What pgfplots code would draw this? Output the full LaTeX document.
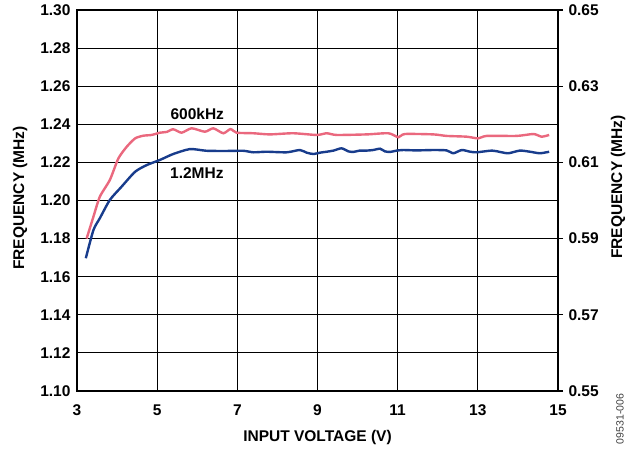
\documentclass[border=0pt]{standalone}
\usepackage{fontspec}
\setmainfont{Liberation Sans}
\usepackage{pgfplots}
\pgfplotsset{compat=1.18}
\definecolor{pinkline}{RGB}{234,104,126}
\definecolor{blueline}{RGB}{24,60,140}
\newcommand{\lbl}{\bfseries\fontsize{15.5}{18}\selectfont}

\begin{document}
\begin{tikzpicture}
\pgfplotsset{
  every axis/.append style={
    scale only axis, width=481pt, height=381pt,
    xmin=3, xmax=15, clip=false,
    /pgf/number format/assume math mode=true,
    ticklabel style={font=\lbl},
  },
}
% left axis: 1.2MHz
\begin{axis}[
  ymin=1.10, ymax=1.30,
  xtick={3,5,7,9,11,13,15},
  ytick={1.10,1.12,1.14,1.16,1.18,1.20,1.22,1.24,1.26,1.28,1.30},
  grid=major, grid style={black, line width=1.1pt},
  axis line style={line width=1.8pt},
  major tick length=0pt,
  yticklabel style={xshift=-3pt, /pgf/number format/fixed, /pgf/number format/fixed zerofill, /pgf/number format/precision=2},
  xticklabel style={yshift=-10pt},
]
\coordinate (SW) at (rel axis cs:0,0);
\addplot[blueline, line width=2.4pt, smooth, tension=0.4] coordinates {
  (3.22,1.1697) (3.41,1.1845) (3.57,1.1907) (3.82,1.2003) (4.11,1.2072)
  (4.45,1.2151) (4.74,1.2186) (5.07,1.2213) (5.40,1.2244) (5.82,1.2270)
  (6.23,1.2261) (6.73,1.2260) (7.15,1.2261) (7.40,1.2253) (7.73,1.2256)
  (8.23,1.2253) (8.56,1.2265) (8.73,1.2251) (8.90,1.2244) (9.06,1.2251)
  (9.23,1.2256) (9.40,1.2262) (9.60,1.2274) (9.77,1.2258) (9.89,1.2255)
  (10.06,1.2262) (10.23,1.2262) (10.39,1.2265) (10.56,1.2272) (10.68,1.2258)
  (10.81,1.2255) (10.98,1.2262) (11.14,1.2265) (11.47,1.2263) (11.89,1.2265)
  (12.22,1.2263) (12.39,1.2248) (12.60,1.2265) (12.81,1.2256) (12.97,1.2253)
  (13.35,1.2262) (13.55,1.2255) (13.76,1.2248) (14.05,1.2262) (14.30,1.2256)
  (14.55,1.2248) (14.78,1.2256)
};
\node[font=\lbl] at (axis cs:6.0,1.2454) {600kHz};
\node[font=\lbl] at (axis cs:5.99,1.2146) {1.2MHz};
\end{axis}

% right axis: 600kHz
\begin{axis}[
  ymin=0.55, ymax=0.65,
  axis x line=none, axis y line*=right,
  ytick={0.55,0.57,0.59,0.61,0.63,0.65},
  axis line style={line width=1.8pt},
  tick align=outside, major tick length=5pt,
  tick style={black, line width=1.1pt},
  yticklabel style={xshift=2pt, /pgf/number format/fixed, /pgf/number format/fixed zerofill, /pgf/number format/precision=2},
]
\addplot[pinkline, line width=2.4pt, smooth, tension=0.4] coordinates {
  (3.24,0.5900) (3.41,0.59575) (3.57,0.6010) (3.82,0.6054) (4.03,0.6110)
  (4.24,0.6141) (4.45,0.6163) (4.65,0.6170) (4.86,0.6172) (5.07,0.6178)
  (5.24,0.6180) (5.40,0.6187) (5.61,0.6178) (5.86,0.61895) (6.19,0.61805)
  (6.40,0.61895) (6.65,0.61765) (6.83,0.61875) (6.98,0.6178) (7.40,0.61765)
  (7.81,0.61735) (8.39,0.61765) (8.98,0.6172) (9.23,0.61765) (9.48,0.6172)
  (10.23,0.61735) (10.77,0.61765) (11.02,0.6166) (11.18,0.61745) (11.89,0.61735)
  (12.22,0.61695) (12.72,0.61675) (13.01,0.6163) (13.22,0.61695) (13.97,0.61695)
  (14.39,0.61745) (14.59,0.61675) (14.78,0.6172)
};
\end{axis}

\node[font=\lbl, rotate=90] at ([shift={(-57pt,193pt)}]SW) {FREQUENCY (MHz)};
\node[font=\lbl, rotate=90] at ([shift={(541pt,204pt)}]SW) {FREQUENCY (MHz)};
\node[font=\lbl] at ([shift={(240.5pt,-46pt)}]SW) {INPUT VOLTAGE (V)};
\node[font=\fontsize{10.5}{12}\selectfont, text=black!75, rotate=90] at ([shift={(543pt,-28pt)}]SW) {09531-006};
\path[use as bounding box] ([shift={(-77pt,-59pt)}]SW) rectangle ([shift={(552pt,391pt)}]SW);
\end{tikzpicture}
\end{document}
